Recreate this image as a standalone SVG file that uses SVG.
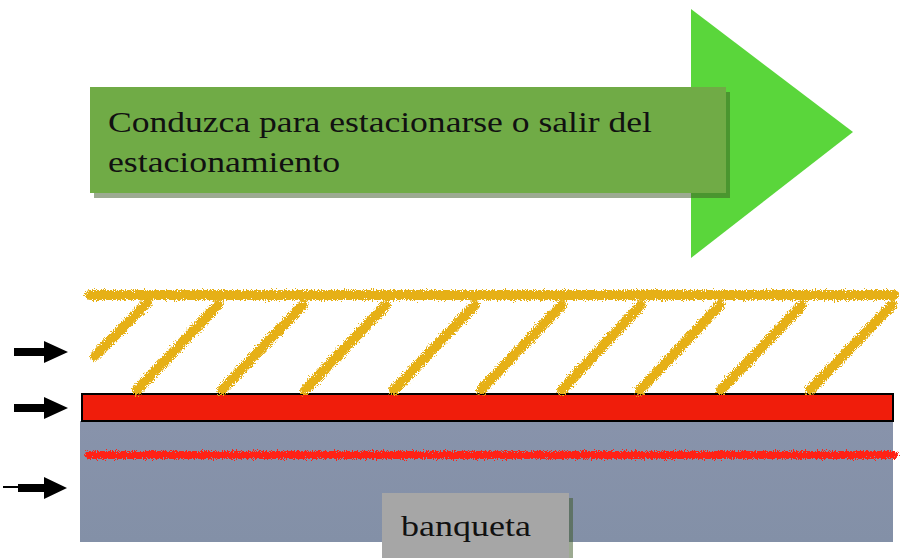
<svg xmlns="http://www.w3.org/2000/svg" width="904" height="558" viewBox="0 0 904 558">
<defs>
<style>
.t{font-family:"Liberation Serif","Times New Roman",serif;fill:#111;}
.yel{stroke:#e6b012;stroke-width:10;stroke-linecap:round;fill:none;filter:url(#crayon);}
.red{stroke:#ff2412;stroke-width:8;stroke-linecap:round;fill:none;filter:url(#crayon);}
.arr{fill:#000;}
.shadow{fill:#3a5524;opacity:0.5;}
</style>
<filter id="crayon" filterUnits="userSpaceOnUse" x="0" y="0" width="904" height="558">
<feTurbulence type="fractalNoise" baseFrequency="0.9" numOctaves="2" seed="3" result="n"/>
<feDisplacementMap in="SourceGraphic" in2="n" scale="8" xChannelSelector="R" yChannelSelector="G"/>
</filter>
<linearGradient id="walk" x1="0" y1="0" x2="0" y2="1">
<stop offset="0" stop-color="#8893ab"/>
<stop offset="1" stop-color="#8390a7"/>
</linearGradient>
</defs>
<rect width="904" height="558" fill="#fff"/>

<g id="big-arrow">
<polygon points="691,9 853,132 691,258" fill="#5ad63b"/>
</g>

<g id="title-box">
<rect class="shadow" x="94" y="92" width="636" height="106"/>
<rect x="90" y="87" width="636" height="106" fill="#70ab46"/>
<text class="t" font-size="30" x="108" y="132" textLength="544" lengthAdjust="spacingAndGlyphs">Conduzca para estacionarse o salir del</text>
<text class="t" font-size="30" x="108" y="172" textLength="232" lengthAdjust="spacingAndGlyphs">estacionamiento</text>
</g>

<g id="sidewalk">
<rect x="80" y="421" width="813" height="121" fill="url(#walk)"/>
<path class="red" d="M89,455 L894,455"/>
</g>

<g id="curb">
<rect x="82" y="394" width="811" height="27" fill="#f01d0b" stroke="#000" stroke-width="2"/>
</g>

<g id="hatching">
<path class="yel" d="M90,295 L894,295"/>
<path class="yel" d="M95,356 L147,303"/>
<path class="yel" d="M137,390 L218,305"/>
<path class="yel" d="M222,390 L303,305"/>
<path class="yel" d="M305,390 L386,305"/>
<path class="yel" d="M394,390 L475,305"/>
<path class="yel" d="M481,390 L562,305"/>
<path class="yel" d="M562,390 L641,305"/>
<path class="yel" d="M640,390 L720,305"/>
<path class="yel" d="M721,390 L802,305"/>
<path class="yel" d="M810,390 L892,305"/>
</g>

<g id="banqueta">
<rect class="shadow" x="386" y="498" width="187" height="60"/>
<rect x="382" y="493" width="187" height="65" fill="#a6a6a6"/>
<text class="t" font-size="30" x="401" y="536" textLength="130" lengthAdjust="spacingAndGlyphs">banqueta</text>
</g>

<g id="connectors">
<path class="arr" d="M14,348 L44,348 L44,341 L68,352 L44,363 L44,356 L14,356 Z"/>
<path class="arr" d="M14,404 L44,404 L44,397 L68,408 L44,419 L44,412 L14,412 Z"/>
<path class="arr" d="M3,486 L18,486 L18,484 L44,484 L44,477 L67,488 L44,499 L44,492 L18,492 L18,488 L3,488 Z"/>
</g>
</svg>
